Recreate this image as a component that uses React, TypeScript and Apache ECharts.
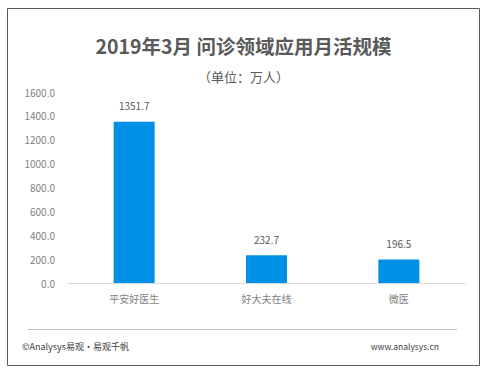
import React, { useEffect, useRef } from "react";
import * as echarts from "echarts";

const categories = ["平安好医生", "好大夫在线", "微医"];
const values = [1351.7, 232.7, 196.5];
const titleText = "2019年3月 问诊领域应用月活规模";
const subtitleText = "（单位：万人）";

export default function App() {
  const ref = useRef<HTMLDivElement>(null);
  useEffect(() => {
    const chart = echarts.init(ref.current!, null, { renderer: "svg" });
    const font = "'Microsoft YaHei', 'Noto Sans CJK SC', sans-serif";
    chart.setOption({
      animation: false,
      backgroundColor: "#ffffff",
      textStyle: { fontFamily: font },
      title: [
        {
          text: titleText,
          left: "center",
          top: 31,
          textStyle: { fontSize: 19.5, fontWeight: "bold", color: "#595959", fontFamily: font },
        },
        {
          text: subtitleText,
          left: "center",
          top: 65,
          textStyle: { fontSize: 13, fontWeight: "normal", color: "#595959", fontFamily: font },
        },
      ],
      grid: { left: 68, right: 22, top: 92, bottom: 92, containLabel: false },
      xAxis: {
        type: "category",
        data: categories,
        axisLine: { lineStyle: { color: "#d9d9d9" } },
        axisTick: { show: false },
        axisLabel: { color: "#7f7f7f", fontSize: 10, margin: 10 },
      },
      yAxis: {
        type: "value",
        min: 0,
        max: 1600,
        interval: 200,
        axisLine: { show: false },
        axisTick: { show: false },
        splitLine: { show: false },
        axisLabel: {
          color: "#7f7f7f",
          fontSize: 10,
          margin: 13,
          formatter: (v: number) => v.toFixed(1),
        },
      },
      series: [
        {
          type: "bar",
          data: values,
          barWidth: 41,
          itemStyle: { color: "#0091e6" },
          label: {
            show: true,
            position: "top",
            distance: 11,
            color: "#595959",
            fontSize: 10,
            formatter: (p: any) => p.value.toFixed(1),
          },
        },
      ],
      graphic: [
        {
          type: "rect",
          shape: { x: 7.5, y: 8.5, width: 472, height: 357 },
          style: { fill: "none", stroke: "#595959", lineWidth: 1 },
          silent: true,
        },
        {
          type: "line",
          shape: { x1: 28, y1: 329.5, x2: 457, y2: 329.5 },
          style: { stroke: "#bfbfbf", lineWidth: 1 },
        },
        {
          type: "text",
          x: 22,
          y: 346,
          style: {
            text: "©Analysys易观·易观千帆",
            fontSize: 9,
            fill: "#404040",
            fontFamily: font,
            verticalAlign: "middle",
          },
        },
        {
          type: "text",
          x: 439,
          y: 346,
          style: {
            text: "www.analysys.cn",
            fontSize: 8.5,
            fill: "#404040",
            fontFamily: font,
            align: "right",
            verticalAlign: "middle",
          },
        },
      ],
    });
    return () => chart.dispose();
  }, []);
  return <div ref={ref} style={{ width: 487, height: 375, position: "absolute", left: 0, top: 0 }} />;
}
